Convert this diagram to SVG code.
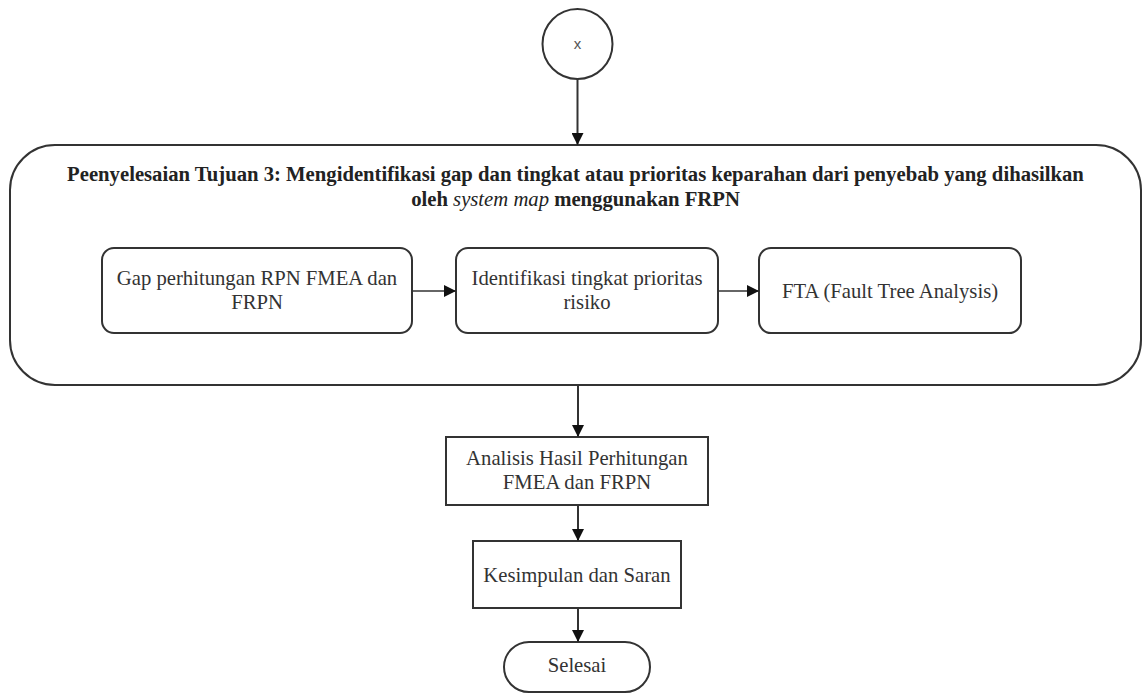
<svg xmlns="http://www.w3.org/2000/svg" width="1142" height="693" viewBox="0 0 1142 693">
  <style>
    .shape { fill: #ffffff; stroke: #333333; stroke-width: 2; }
    .label { font-size: 20.7px; fill: #333333; text-anchor: middle; }
    .title { font-size: 20.7px; font-weight: bold; fill: #222222; text-anchor: middle; }
    .conn { fill: none; stroke: #333333; stroke-width: 2; }
    .conn-h { fill: none; stroke: #333333; stroke-width: 1.5; }
  </style>
  <defs>
    <marker id="arrow" viewBox="0 0 12 12" refX="12" refY="6" markerWidth="12" markerHeight="12" markerUnits="userSpaceOnUse" orient="auto">
      <path d="M0,0 L12,6 L0,12 Z" fill="#111111"/>
    </marker>
  </defs>

  <rect width="1142" height="693" fill="#ffffff"/>

  <!-- off-page connector -->
  <g id="connector-x">
    <circle class="shape" cx="577.5" cy="44" r="35"/>
    <text x="577.5" y="49" font-family="Liberation Sans, Arial, sans-serif" font-size="15" fill="#555555" text-anchor="middle">x</text>
  </g>

  <g font-family="Liberation Serif, Times New Roman, serif">
  <!-- objective 3 container -->
  <g id="tujuan-3">
    <rect class="shape" x="10" y="145" width="1131" height="240" rx="45" ry="45"/>
    <text class="title" x="575.5" y="181">Peenyelesaian Tujuan 3: Mengidentifikasi gap dan tingkat atau prioritas keparahan dari penyebab yang dihasilkan</text>
    <text class="title" x="575.5" y="206">oleh <tspan font-style="italic" font-weight="normal">system map</tspan> menggunakan FRPN</text>
  </g>

  <g id="gap-rpn">
    <rect class="shape" x="102" y="248" width="310" height="85" rx="12" ry="12"/>
    <text class="label" x="257" y="285">Gap perhitungan RPN FMEA dan</text>
    <text class="label" x="257" y="309">FRPN</text>
  </g>

  <g id="identifikasi">
    <rect class="shape" x="456" y="248" width="262" height="85" rx="12" ry="12"/>
    <text class="label" x="587" y="285">Identifikasi tingkat prioritas</text>
    <text class="label" x="587" y="309">risiko</text>
  </g>

  <g id="fta">
    <rect class="shape" x="759" y="248" width="262" height="85" rx="12" ry="12"/>
    <text class="label" x="890" y="297.5">FTA (Fault Tree Analysis)</text>
  </g>

  <g id="analisis">
    <rect class="shape" x="446" y="437" width="262" height="68"/>
    <text class="label" x="577" y="465">Analisis Hasil Perhitungan</text>
    <text class="label" x="577" y="489">FMEA dan FRPN</text>
  </g>

  <g id="kesimpulan">
    <rect class="shape" x="473" y="541" width="208" height="67"/>
    <text class="label" x="577" y="581.5">Kesimpulan dan Saran</text>
  </g>

  <g id="selesai">
    <rect class="shape" x="504" y="642" width="146" height="50" rx="25" ry="25"/>
    <text class="label" x="577" y="672">Selesai</text>
  </g>
  </g>

  <!-- connectors -->
  <g id="connectors">
    <line class="conn" x1="577.5" y1="79" x2="577.5" y2="145" marker-end="url(#arrow)"/>
    <line class="conn-h" x1="412" y1="291" x2="456" y2="291" marker-end="url(#arrow)"/>
    <line class="conn-h" x1="718" y1="291" x2="759" y2="291" marker-end="url(#arrow)"/>
    <line class="conn" x1="578" y1="385" x2="578" y2="437" marker-end="url(#arrow)"/>
    <line class="conn" x1="578" y1="505" x2="578" y2="541" marker-end="url(#arrow)"/>
    <line class="conn" x1="578" y1="608" x2="578" y2="642" marker-end="url(#arrow)"/>
  </g>
</svg>
